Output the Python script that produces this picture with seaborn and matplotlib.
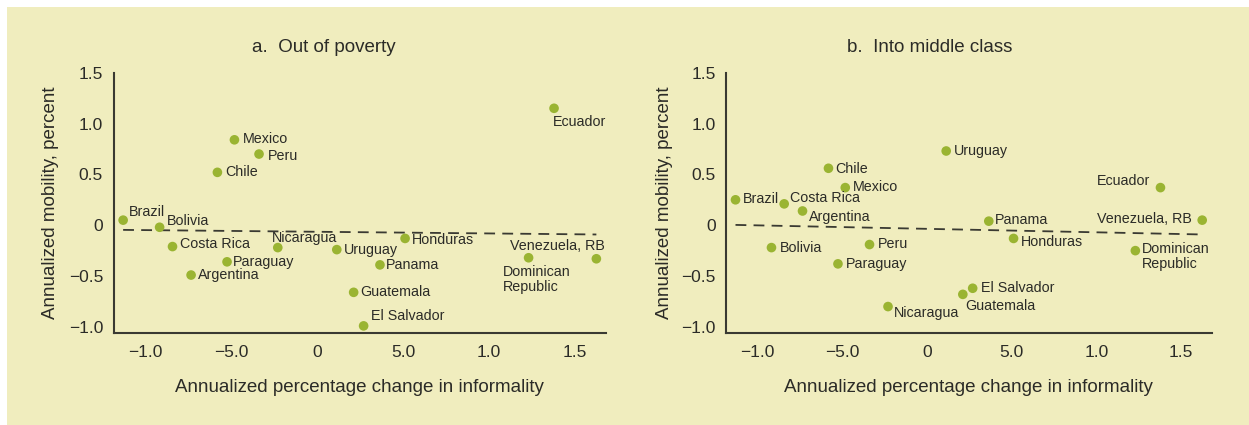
import matplotlib
matplotlib.use("Agg")
import matplotlib.pyplot as plt
import seaborn as sns
import numpy as np
import pandas as pd
from matplotlib.patches import Rectangle

# ---------------- data ----------------
countries = ["Brazil", "Bolivia", "Costa Rica", "Argentina", "Chile", "Paraguay",
             "Mexico", "Peru", "Nicaragua", "Uruguay", "Guatemala", "El Salvador",
             "Panama", "Honduras", "Dominican\nRepublic", "Ecuador", "Venezuela, RB"]
informality_change = [-1.127, -0.915, -0.84, -0.732, -0.579, -0.523,
                      -0.48, -0.337, -0.228, 0.115, 0.213, 0.271,
                      0.366, 0.512, 1.23, 1.378, 1.624]
out_of_poverty = [0.05, -0.02, -0.21, -0.49, 0.52, -0.36,
                  0.84, 0.70, -0.22, -0.24, -0.66, -0.99,
                  -0.39, -0.13, -0.32, 1.15, -0.33]
into_middle_class = [0.25, -0.22, 0.21, 0.14, 0.56, -0.38,
                     0.37, -0.19, -0.80, 0.73, -0.68, -0.62,
                     0.04, -0.13, -0.25, 0.37, 0.05]
# fitted trend lines (intercept, slope)
fit_poverty = (-0.0644, -0.0164)
fit_middle = (-0.0355, -0.0342)

xtick_values = [-1.0, -0.5, 0, 0.5, 1.0, 1.5]
xtick_labels = ["\u22121.0", "\u22125.0", "0", "5.0", "1.0", "1.5"]
ytick_values = [-1.0, -0.5, 0, 0.5, 1.0, 1.5]
ytick_labels = ["\u22121.0", "\u22120.5", "0", "0.5", "1.0", "1.5"]

titles = ["a.  Out of poverty", "b.  Into middle class"]
xlabel = "Annualized percentage change in informality"
ylabel = "Annualized mobility, percent"

# ---------------- label placement (pixels) ----------------
lab_a = {
    "Brazil": (6, 8, "left", "center"),
    "Bolivia": (7, 6, "left", "center"),
    "Costa Rica": (7, 3, "left", "center"),
    "Argentina": (7, 0, "left", "center"),
    "Chile": (8, 0, "left", "center"),
    "Paraguay": (6, 0, "left", "center"),
    "Mexico": (8, 1, "left", "center"),
    "Peru": (9, -2, "left", "center"),
    "Nicaragua": (-6, 10, "left", "center"),
    "Uruguay": (7, 0, "left", "center"),
    "Guatemala": (7, 0, "left", "center"),
    "El Salvador": (7, 10, "left", "center"),
    "Panama": (6, 0, "left", "center"),
    "Honduras": (7, -2, "left", "center"),
    "Dominican\nRepublic": (-26, -7, "left", "top"),
    "Ecuador": (-1, -14, "left", "center"),
    "Venezuela, RB": (9, 13, "right", "center"),
}
lab_b = {
    "Brazil": (7, 1, "left", "center"),
    "Bolivia": (8, 0, "left", "center"),
    "Costa Rica": (6, 6, "left", "center"),
    "Argentina": (6, -6, "left", "center"),
    "Chile": (7, -1, "left", "center"),
    "Paraguay": (8, 0, "left", "center"),
    "Mexico": (8, 1, "left", "center"),
    "Peru": (8, 1, "left", "center"),
    "Nicaragua": (6, -6, "left", "center"),
    "Uruguay": (8, 0, "left", "center"),
    "Guatemala": (2, -12, "left", "center"),
    "El Salvador": (8, 0, "left", "center"),
    "Panama": (6, 1, "left", "center"),
    "Honduras": (7, -4, "left", "center"),
    "Dominican\nRepublic": (7, 9, "left", "top"),
    "Ecuador": (-10, 7, "right", "center"),
    "Venezuela, RB": (-10, 1, "right", "center"),
}

# ---------------- style ----------------
BG = "#F0EDBE"
DOT = "#9AB432"
TXT = "#2b2b27"
SPINE = "#3a3a32"

sns.set_theme(style="white")
plt.rcParams["font.family"] = ["Liberation Sans", "DejaVu Sans"]
plt.rcParams["text.color"] = TXT
plt.rcParams["axes.labelcolor"] = TXT
plt.rcParams["xtick.color"] = TXT
plt.rcParams["ytick.color"] = TXT

W, H = 1249, 425
fig = plt.figure(figsize=(W / 100, H / 100), dpi=100, facecolor="white")
fig.patches.append(Rectangle((7 / W, 0), 1 - 7 / W, 1 - 7 / H, transform=fig.transFigure,
                             facecolor=BG, edgecolor="none", zorder=-10))

ax_a = fig.add_axes([113.5 / W, 1 - 333 / H, (606 - 113.5) / W, (333 - 72.7) / H])
ax_b = fig.add_axes([726 / W, 1 - 333 / H, (1211.7 - 726) / W, (333 - 72.7) / H])

panels = [
    (ax_a, out_of_poverty, fit_poverty, lab_a, titles[0], 324),
    (ax_b, into_middle_class, fit_middle, lab_b, titles[1], 930),
]

for ax, yvals, fit, labs, title, tx in panels:
    df = pd.DataFrame({"country": countries, "x": informality_change, "y": yvals})
    ax.set_facecolor("none")
    xs = np.array([min(informality_change), max(informality_change)])
    fit_df = pd.DataFrame({"x": xs, "y": fit[0] + fit[1] * xs})
    sns.lineplot(data=fit_df, x="x", y="y", ax=ax, color=SPINE, lw=1.3,
                 linestyle=(0, (6, 4)), zorder=2)
    sns.scatterplot(data=df, x="x", y="y", ax=ax, color=DOT, s=48,
                    edgecolor="none", linewidth=0, zorder=3)
    for _, r in df.iterrows():
        dx, dy, ha, va = labs[r["country"]]
        ax.annotate(r["country"], (r["x"], r["y"]), xytext=(dx, dy),
                    textcoords="offset pixels", ha=ha, va=va,
                    fontsize=10.3, color=TXT, linespacing=1.1)
    ax.set_xlim(-1.183, 1.68)
    ax.set_ylim(-1.06, 1.5)
    ax.set_xticks(xtick_values)
    ax.set_xticklabels(xtick_labels)
    ax.set_yticks(ytick_values)
    ax.set_yticklabels(ytick_labels)
    ax.tick_params(direction="in", length=7.5, width=1.1, labelsize=12.5,
                   color=SPINE, pad=7.5)
    ax.tick_params(axis="x", pad=8.5)
    for s in ["top", "right"]:
        ax.spines[s].set_visible(False)
    for s in ["left", "bottom"]:
        ax.spines[s].set_color(SPINE)
        ax.spines[s].set_linewidth(1.5)
    ax.set_xlabel(xlabel, fontsize=13.5)
    ax.set_ylabel(ylabel, fontsize=13.5)
    ax.xaxis.set_label_coords(0.5, -0.211)
    ax.xaxis.label.set_va("center")
    ax.yaxis.set_label_coords(-0.127, 0.5)
    ax.yaxis.label.set_va("center")
    fig.text(tx / W, 1 - 47 / H, title, ha="center", va="center", fontsize=13.5, color=TXT)

fig.savefig("out.png", dpi=100, facecolor="white")
